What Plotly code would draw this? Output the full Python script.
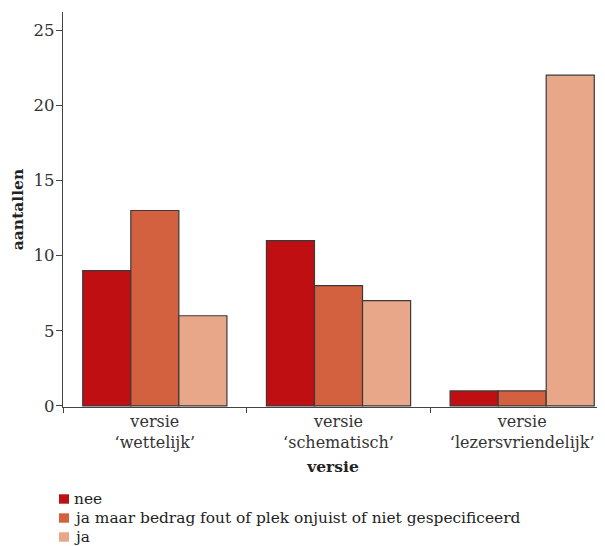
import plotly.graph_objects as go

categories = ["versie<br>‘wettelijk’", "versie<br>‘schematisch’", "versie<br>‘lezersvriendelijk’"]
series_names = ["nee", "ja maar bedrag fout of plek onjuist of niet gespecificeerd", "ja"]
nee = [9, 11, 1]
ja_maar = [13, 8, 1]
ja = [6, 7, 22]
colors = ["#C00F12", "#D3603F", "#E9A78A"]

FONT = "DejaVu Serif"
fig = go.Figure()
for name, vals, col in zip(series_names, [nee, ja_maar, ja], colors):
    fig.add_trace(go.Bar(x=categories, y=vals, name=name, showlegend=False,
                         marker=dict(color=col, line=dict(color="#3a3a3a", width=1.2))))

# figure coords (page has 8px body margin): plot area x 55..595, y 4..399
L, R, T, B = 55, 595, 4, 399
PW, PH = float(R - L), float(B - T)
row_px = [491, 510, 529]
for name, col, py in zip(series_names, colors, row_px):
    yc = (B - py) / PH
    fig.add_shape(type="rect", xref="paper", yref="paper",
                  x0=(51 - L) / PW, x1=(61 - L) / PW, y0=yc - 4.7 / PH, y1=yc + 4.7 / PH,
                  fillcolor=col, line=dict(width=0))
    fig.add_annotation(xref="paper", yref="paper", x=(64 - L) / PW, y=yc,
                       xanchor="left", yanchor="middle", showarrow=False, text=name,
                       font=dict(family=FONT, size=15.4, color="#222"))

fig.update_layout(
    width=605, height=546,
    margin=dict(l=L, r=605 - R, t=T, b=546 - B, autoexpand=False),
    paper_bgcolor="white", plot_bgcolor="white",
    barmode="group", bargap=0.215, bargroupgap=0,
    font=dict(family=FONT, size=15, color="#222"),
    showlegend=False,
    xaxis=dict(range=[-0.5, 2.44], showline=True, linecolor="#444", linewidth=1.2,
               ticks="outside", tickson="boundaries", ticklen=5, tickcolor="#444",
               tickangle=0, automargin=False,
               tickfont=dict(family=FONT, size=16, color="#333"),
               title=dict(text="<b>versie</b>", font=dict(family=FONT, size=15.5, color="#222"), standoff=10),
               showgrid=False, zeroline=False, fixedrange=True),
    yaxis=dict(range=[-0.07, 26.2], showline=True, linecolor="#444", linewidth=1.2,
               ticks="outside", ticklen=6, tickcolor="#444", tickvals=[0, 5, 10, 15, 20, 25],
               automargin=False, ticklabelstandoff=-2,
               tickfont=dict(family=FONT, size=16.5, color="#333"),
               title=dict(text="<b>aantallen</b>", font=dict(family=FONT, size=15.5, color="#222"), standoff=12),
               showgrid=False, zeroline=False),
)
fig.write_html("out.html")
